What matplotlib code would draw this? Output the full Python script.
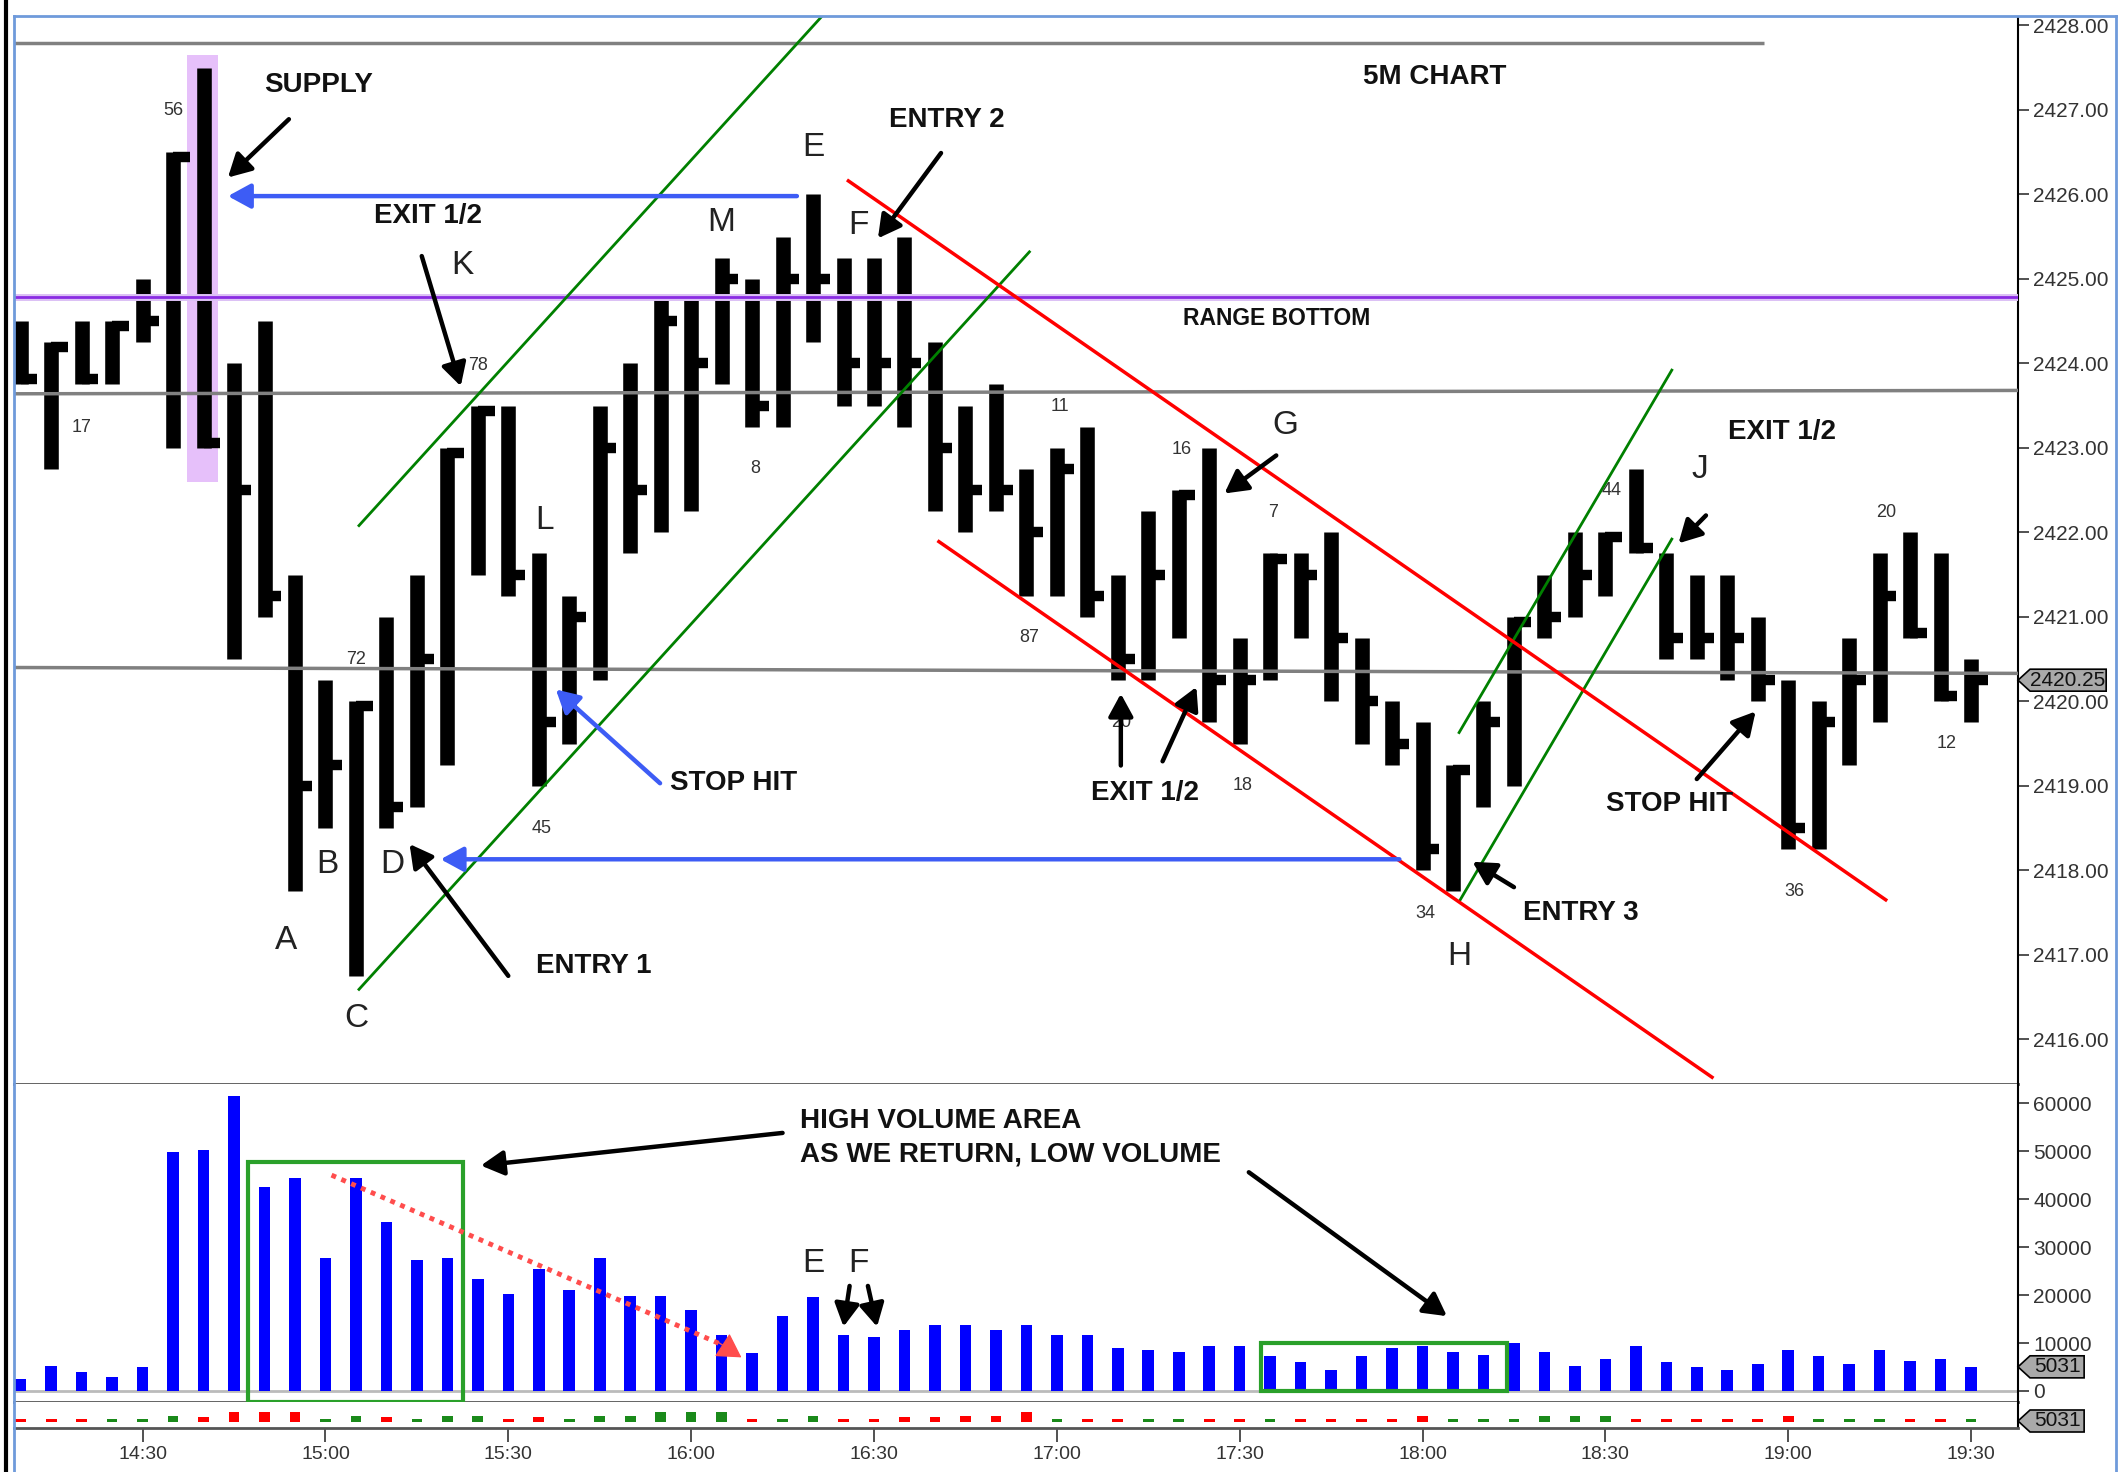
import numpy as np
import matplotlib.pyplot as plt
from matplotlib.lines import Line2D
from matplotlib.patches import Rectangle, Polygon

plt.rcParams['font.family'] = ['Liberation Sans', 'DejaVu Sans']

# 5 minute bars, 14:10 .. 19:30 (high / low / close)
highs = [2424.5, 2424.25, 2424.5, 2424.5, 2425.0, 2426.5, 2427.5, 2424.0, 2424.5, 2421.5,
         2420.25, 2420.0, 2421.0, 2421.5, 2423.0, 2423.5, 2423.5, 2421.75, 2421.25, 2423.5,
         2424.0, 2424.75, 2424.75, 2425.25, 2425.0, 2425.5, 2426.0, 2425.25, 2425.25, 2425.5,
         2424.25, 2423.5, 2423.75, 2422.75, 2423.0, 2423.25, 2421.5, 2422.25, 2422.5, 2423.0,
         2420.75, 2421.75, 2421.75, 2422.0, 2420.75, 2420.0, 2419.75, 2419.25, 2420.0, 2421.0,
         2421.5, 2422.0, 2422.0, 2422.75, 2421.75, 2421.5, 2421.5, 2421.0, 2420.25, 2420.0,
         2420.75, 2421.75, 2422.0, 2421.75, 2420.5]
lows = [2423.75, 2422.75, 2423.75, 2423.75, 2424.25, 2423.0, 2423.0, 2420.5, 2421.0, 2417.75,
        2418.5, 2416.75, 2418.5, 2418.75, 2419.25, 2421.5, 2421.25, 2419.0, 2419.5, 2420.25,
        2421.75, 2422.0, 2422.25, 2423.75, 2423.25, 2423.25, 2424.25, 2423.5, 2423.5, 2423.25,
        2422.25, 2422.0, 2422.25, 2421.25, 2421.25, 2421.0, 2420.25, 2420.25, 2420.75, 2419.75,
        2419.5, 2420.25, 2420.75, 2420.0, 2419.5, 2419.25, 2418.0, 2417.75, 2418.75, 2419.0,
        2420.75, 2421.0, 2421.25, 2421.75, 2420.5, 2420.5, 2420.25, 2420.0, 2418.25, 2418.25,
        2419.25, 2419.75, 2420.75, 2420.0, 2419.75]
closes = [2423.75, 2424.25, 2423.75, 2424.5, 2424.5, 2426.5, 2423.0, 2422.5, 2421.25, 2419.0,
          2419.25, 2420.0, 2418.75, 2420.5, 2423.0, 2423.5, 2421.5, 2419.75, 2421.0, 2423.0,
          2422.5, 2424.5, 2424.0, 2425.0, 2423.5, 2425.0, 2425.0, 2424.0, 2424.0, 2424.0,
          2423.0, 2422.5, 2422.5, 2422.0, 2422.75, 2421.25, 2420.5, 2421.5, 2422.5, 2420.25,
          2420.25, 2421.75, 2421.5, 2420.75, 2420.0, 2419.5, 2418.25, 2419.25, 2419.75, 2421.0,
          2421.0, 2421.5, 2422.0, 2421.75, 2420.75, 2420.75, 2420.75, 2420.25, 2418.5, 2419.75,
          2420.25, 2421.25, 2420.75, 2420.0, 2420.25]
volume = [2500, 5200, 4000, 3000, 4900, 49800, 50200, 61500, 42600, 44500,
          27700, 44500, 35200, 27300, 27700, 23300, 20200, 25400, 21100, 27700,
          19800, 19800, 16900, 11600, 7900, 15700, 19500, 11600, 11200, 12700,
          13800, 13800, 12700, 13800, 11600, 11600, 9000, 8500, 8200, 9400,
          9400, 7200, 6000, 4400, 7200, 9000, 9400, 8200, 7500, 10100,
          8200, 5200, 6700, 9400, 6000, 4900, 4400, 5600, 8500, 7200,
          5600, 8500, 6300, 6700, 5031]
# lower strip: + green, - red
delta = [-0.3, -0.3, -0.3, 0.3, 0.3, 0.6, -0.5, -1.0, -1.0, -1.0,
         0.3, 0.6, -0.5, 0.3, 0.6, 0.6, -0.3, -0.5, 0.3, 0.6,
         0.6, 1.0, 1.0, 1.0, -0.3, 0.3, 0.6, -0.3, -0.3, -0.5,
         -0.5, -0.6, -0.6, -1.0, 0.3, -0.3, -0.3, 0.3, 0.3, -0.3,
         -0.3, 0.3, -0.3, -0.3, -0.3, -0.3, -0.6, 0.3, 0.3, 0.3,
         0.6, 0.6, 0.6, -0.3, -0.3, -0.3, -0.3, -0.3, -0.6, 0.3,
         0.3, 0.3, -0.3, -0.3, 0.3]

time_ticks = [4, 10, 16, 22, 28, 34, 40, 46, 52, 58, 64]
time_labels = ['14:30', '15:00', '15:30', '16:00', '16:30', '17:00',
               '17:30', '18:00', '18:30', '19:00', '19:30']

bar_labels = ['17', '56', '72', '78', '45', '8', '11', '87', '16', '20',
              '18', '7', '34', '44', '36', '20', '12']
bar_label_x = [2.0, 5.0, 11.0, 15.0, 17.1, 24.1, 34.1, 33.1, 38.1, 36.1,
               40.1, 41.1, 46.1, 52.2, 58.2, 61.2, 63.2]
bar_label_y = [2423.24, 2426.99, 2420.49, 2423.97, 2418.49, 2422.75, 2423.49, 2420.76,
               2422.98, 2419.75, 2419.0, 2422.24, 2417.49, 2422.5, 2417.75, 2422.24, 2419.5]

swing_letters = ['A', 'B', 'C', 'D', 'E', 'F', 'G', 'H', 'J', 'K', 'L', 'M']
swing_x = [8.7, 10.05, 11.0, 12.2, 26.0, 27.5, 41.5, 47.2, 55.1, 14.5, 17.2, 23.0]
swing_y = [2417.17, 2418.07, 2416.24, 2418.07, 2426.56, 2425.63, 2423.27, 2416.98,
           2422.74, 2425.16, 2422.14, 2425.67]

notes = [('SUPPLY', 9.78, 2427.29), ('EXIT 1/2', 13.38, 2425.75), ('ENTRY 2', 30.4, 2426.88),
         ('5M CHART', 46.4, 2427.39), ('EXIT 1/2', 57.8, 2423.19), ('STOP HIT', 23.4, 2419.03),
         ('ENTRY 1', 18.8, 2416.87), ('EXIT 1/2', 36.9, 2418.92), ('ENTRY 3', 51.2, 2417.49),
         ('STOP HIT', 54.1, 2418.79)]

black_arrows = [((8.8, 2426.89), (6.8, 2426.2)), ((13.16, 2425.27), (14.44, 2423.73)),
                ((30.2, 2426.49), (28.13, 2425.48)), ((41.2, 2422.91), (39.5, 2422.46)),
                ((55.3, 2422.2), (54.4, 2421.87)), ((16.0, 2416.75), (12.76, 2418.31)),
                ((36.1, 2419.24), (36.1, 2420.09)), ((37.47, 2419.29), (38.58, 2420.17)),
                ((49.0, 2417.8), (47.64, 2418.1)), ((55.0, 2419.08), (56.93, 2419.88))]
blue_arrows = [((25.47, 2425.98), (6.8, 2425.98)), ((20.98, 2419.03), (17.56, 2420.14)),
               ((45.24, 2418.13), (13.78, 2418.13))]

green_lines = [((11.1, 2422.08), (26.27, 2428.1)), ((11.1, 2416.59), (33.1, 2425.32)),
               ((47.2, 2419.63), (54.18, 2423.92)), ((47.22, 2417.64), (54.18, 2421.92))]
red_lines = [((27.16, 2426.16), (61.2, 2417.65)), ((30.13, 2421.89), (55.5, 2415.55))]

W, H = 2124, 1472
fig = plt.figure(figsize=(W / 100, H / 100), dpi=100)
left, right = 14 / W, 2018 / W
ax = fig.add_axes([left, 1 - 1084 / H, right - left, (1084 - 17) / H])
axv = fig.add_axes([left, 1 - 1402 / H, right - left, (1402 - 1084) / H], sharex=ax)
axs = fig.add_axes([left, 1 - 1428 / H, right - left, (1428 - 1402) / H], sharex=ax)

frame_blue = '#6F9ADB'
for a in (ax, axv, axs):
    a.spines['left'].set_visible(False)
    a.spines['top'].set_visible(False)
    a.spines['right'].set_color('black')
    a.spines['right'].set_linewidth(1.5)
    a.spines['bottom'].set_color('#555555')
    a.spines['bottom'].set_linewidth(2)
    a.yaxis.tick_right()
    a.tick_params(axis='y', direction='out', length=8, width=1.2, labelsize=15,
                  colors='#333333', pad=3)
ax.tick_params(axis='x', bottom=False, labelbottom=False)
axv.tick_params(axis='x', bottom=False, labelbottom=False)

x = np.arange(len(highs))
ax.set_xlim(-0.22, 65.54)

# ---- price panel
ax.set_ylim(2415.47, 2428.1)
ax.set_yticks(np.arange(2416, 2429))
ax.set_yticklabels([f'{v:.2f}' for v in np.arange(2416, 2429)])

ax.add_patch(Rectangle((5.47, 2422.6), 1.02, 5.05, fc='#E6C0FA', ec='none', zorder=1))
ax.vlines(x, lows, highs, color='black', lw=10.5, zorder=3)
tick_y = np.clip(closes, np.array(lows) + 0.06, np.array(highs) - 0.06)
ax.hlines(tick_y, x, x + 0.55, color='black', lw=7.5, zorder=3)

ax.hlines(2427.79, -0.3, 57.2, color='#808080', lw=2.5, zorder=4)
ax.axhline(2424.79, color='#DCC0F5', lw=5, zorder=4)
ax.axhline(2424.79, color='#8A2BE2', lw=2, zorder=4)
ax.plot([-0.3, 66], [2423.64, 2423.68], color='#808080', lw=2.5, zorder=4)
ax.plot([-0.3, 66], [2420.40, 2420.33], color='#808080', lw=2.5, zorder=4)

for (x0, y0), (x1, y1) in green_lines:
    ax.plot([x0, x1], [y0, y1], color='#008000', lw=2, zorder=5)
for (x0, y0), (x1, y1) in red_lines:
    ax.plot([x0, x1], [y0, y1], color='#FF0000', lw=2.5, zorder=5)

for txt, tx, ty in zip(bar_labels, bar_label_x, bar_label_y):
    ax.text(tx, ty, txt, fontsize=13, color='#333333', ha='center', va='center', zorder=6)
for txt, tx, ty in zip(swing_letters, swing_x, swing_y):
    ax.text(tx, ty, txt, fontsize=24, color='#222222', ha='center', va='center', zorder=6)
for txt, tx, ty in notes:
    ax.text(tx, ty, txt, fontsize=20, fontweight='bold', color='#111111',
            ha='center', va='center', zorder=6)
ax.text(41.2, 2424.53, 'RANGE BOTTOM', fontsize=16.5, fontweight='bold', color='#111111',
        ha='center', va='center', zorder=6)

arrow_style = '-|>,head_length=0.55,head_width=0.3'
for start, end in black_arrows:
    ax.annotate('', xy=end, xytext=start, zorder=7,
                arrowprops=dict(arrowstyle=arrow_style, color='black', lw=3.2,
                                mutation_scale=25, shrinkA=0, shrinkB=0))
for start, end in blue_arrows:
    ax.annotate('', xy=end, xytext=start, zorder=7,
                arrowprops=dict(arrowstyle=arrow_style, color='#3D5CF5', lw=3.2,
                                mutation_scale=25, shrinkA=0, shrinkB=0))


def tag(axis, y, half, text, x1):
    tr = axis.get_yaxis_transform()
    pts = [(1.0, y), (1.006, y + half), (x1, y + half), (x1, y - half), (1.006, y - half)]
    axis.add_patch(Polygon(pts, closed=True, transform=tr, fc='#A9A9A9', ec='black',
                           lw=1.2, clip_on=False, zorder=8))
    axis.text((1.006 + x1) / 2, y, text, transform=tr, ha='center', va='center',
              fontsize=15, color='#111111', clip_on=False, zorder=9)


tag(ax, closes[-1], 0.13, f'{closes[-1]:.2f}', 1.044)

# ---- volume panel
axv.set_ylim(-2300, 64000)
axv.set_yticks(np.arange(0, 60001, 10000))
axv.set_yticklabels([str(v) for v in range(0, 60001, 10000)])
axv.axhline(0, color='#BBBBBB', lw=2, zorder=2)
axv.bar(x, volume, width=0.38, color='#0000FF', zorder=3)
axv.add_patch(Rectangle((7.47, -2260), 7.06, 50060, fill=False, ec='#2AA02A', lw=3, zorder=4))
axv.add_patch(Rectangle((40.7, 0), 8.06, 9900, fill=False, ec='#2AA02A', lw=3, zorder=4))
axv.text(25.56, 56300, 'HIGH VOLUME AREA', fontsize=20, fontweight='bold', color='#111111',
         ha='left', va='center')
axv.text(25.56, 49250, 'AS WE RETURN, LOW VOLUME', fontsize=20, fontweight='bold',
         color='#111111', ha='left', va='center')
axv.text(26.0, 26600, 'E', fontsize=24, color='#222222', ha='center', va='center')
axv.text(27.5, 26600, 'F', fontsize=24, color='#222222', ha='center', va='center')
vol_arrows = [((25.0, 53800), (15.1, 47000)), ((40.3, 45600), (46.8, 15600)),
              ((27.2, 21900), (27.0, 13400)), ((27.8, 21900), (28.1, 13400))]
for start, end in vol_arrows:
    axv.annotate('', xy=end, xytext=start, zorder=7,
                 arrowprops=dict(arrowstyle=arrow_style, color='black', lw=3.2,
                                 mutation_scale=25, shrinkA=0, shrinkB=0))
axv.plot([10.2, 23.1], [45000, 9400], color='#FF4D4D', lw=3.5, ls=(0, (1, 1.2)), zorder=6)
axv.annotate('', xy=(23.65, 7000), xytext=(22.9, 10100), zorder=6,
             arrowprops=dict(arrowstyle='-|>,head_length=0.6,head_width=0.35',
                             color='#FF4D4D', lw=1, mutation_scale=25, shrinkA=0, shrinkB=0))
tag(axv, volume[-1], 2300, str(volume[-1]), 1.033)

# ---- lower strip
axs.set_ylim(-0.6, 2.0)
axs.set_yticks([])
axs.bar(x, np.abs(delta), width=0.35, color=['#1A8A1A' if d > 0 else '#FF0000' for d in delta],
        zorder=3)
axs.set_xticks(time_ticks)
axs.set_xticklabels(time_labels)
axs.tick_params(axis='x', direction='out', length=10, width=1.2, labelsize=14,
                colors='#333333', pad=3)
tag(axs, 0.1, 1.1, str(volume[-1]), 1.033)

# window frame
fig.add_artist(Line2D([6 / W, 6 / W], [0, 1], color='black', lw=3))
fig.add_artist(Line2D([13.5 / W, 13.5 / W], [0, 1 - 16 / H], color=frame_blue, lw=2))
fig.add_artist(Line2D([13.5 / W, 2116 / W], [1 - 16 / H, 1 - 16 / H], color=frame_blue, lw=2))
fig.add_artist(Line2D([2116 / W, 2116 / W], [0, 1 - 16 / H], color=frame_blue, lw=2))

fig.savefig('out.png', dpi=100)
